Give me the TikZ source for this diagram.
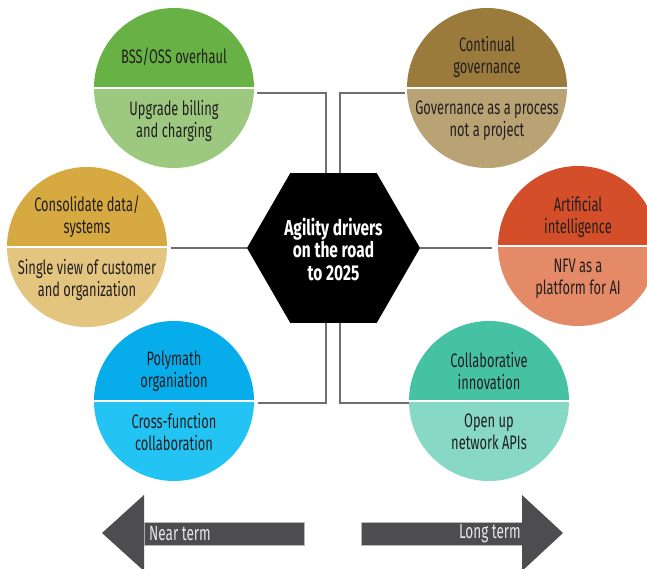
\documentclass[tikz,border=0pt]{standalone}
\usepackage{fontspec}
\setmainfont{Fira Sans}[FakeStretch=0.66]
\newfontfamily\hubfont{Fira Sans}[FakeStretch=0.72]
\usetikzlibrary{shapes.geometric,calc}
\definecolor{gTop}{HTML}{68B245}
\definecolor{gBot}{HTML}{9CC87F}
\definecolor{brTop}{HTML}{9A7B3C}
\definecolor{brBot}{HTML}{B9A273}
\definecolor{yTop}{HTML}{D6AA41}
\definecolor{yBot}{HTML}{E4C57F}
\definecolor{oTop}{HTML}{D54E2A}
\definecolor{oBot}{HTML}{E58A66}
\definecolor{bTop}{HTML}{07ADEA}
\definecolor{bBot}{HTML}{23C4F3}
\definecolor{tTop}{HTML}{45C2A3}
\definecolor{tBot}{HTML}{87D8C5}
\definecolor{ink}{HTML}{231F20}
\definecolor{connc}{HTML}{6D6E71}
\definecolor{arrc}{HTML}{4D4D4F}
\definecolor{arrtxt}{HTML}{E6E6E6}
\tikzset{
  disc/.style={circle, minimum size=160pt, inner sep=0pt},
  lbl/.style={align=center, inner sep=0pt, text=ink, font=\fontsize{19.5}{22}\selectfont},
  hubtxt/.style={align=center, inner sep=0pt, text=white, font=\hubfont\bfseries\fontsize{21.5}{22.5}\selectfont},
  arrlbl/.style={inner sep=0pt, text=arrtxt, font=\fontsize{20.5}{22}\selectfont},
  connector/.style={draw=connc, line width=1.3pt},
  arrowbody/.style={fill=arrc, draw=gray!55, line width=0.6pt},
}
\newcommand\splitdisc[4]{%
  \node[disc] (#1) at (#2) {};
  \begin{scope}
    \clip (#2) circle[radius=80];
    \fill[#3] ($(#2)+(-81,-81)$) rectangle ($(#2)+(81,-1.2)$);
    \fill[#4] ($(#2)+(-81,1.2)$) rectangle ($(#2)+(81,81)$);
  \end{scope}}
\begin{document}
\begin{tikzpicture}[x=1pt,y=-1pt]
\useasboundingbox (0,0) rectangle (647,569);
\clip (0,0) rectangle (647,569);
\fill[white] (0,0) rectangle (647,569);

% discs
\splitdisc{g}{174,88}{gTop}{gBot}
\splitdisc{br}{487,88}{brTop}{brBot}
\splitdisc{y}{87,247}{yTop}{yBot}
\splitdisc{o}{578,246}{oTop}{oBot}
\splitdisc{b}{174,401}{bTop}{bBot}
\splitdisc{t}{489,401}{tTop}{tBot}

% hub
\node[regular polygon, regular polygon sides=6,
      minimum size=173pt, inner sep=0pt, fill=black] (hub) at (333.5,248) {};
\node[hubtxt] (hubt) at ($(hub.center)+(0,1)$) {Agility drivers\\on the road\\to 2025};

% labels
\node[lbl] (gt) at ($(g)+(0,-31)$) {BSS/OSS overhaul};
\node[lbl] (gb) at ($(g)+(0,33)$) {Upgrade billing\\and charging};
\node[lbl] (brt) at ($(br)+(0,-31)$) {Continual\\governance};
\node[lbl] (brb) at ($(br)+(0,33)$) {Governance as a process\\not a project};
\node[lbl] (yt) at ($(y)+(0,-30)$) {Consolidate data/\\systems};
\node[lbl] (yb) at ($(y)+(0,33)$) {Single view of customer\\and organization};
\node[lbl] (ot) at ($(o)+(0,-29)$) {Artificial\\intelligence};
\node[lbl] (ob) at ($(o)+(0,33)$) {NFV as a\\platform for AI};
\node[lbl] (bt) at ($(b)+(0,-30)$) {Polymath\\organiation};
\node[lbl] (bb) at ($(b)+(0,31)$) {Cross-function\\collaboration};
\node[lbl] (tt) at ($(t)+(0,-30)$) {Collaborative\\innovation};
\node[lbl] (tb) at ($(t)+(0,31)$) {Open up\\network APIs};

% connectors
\coordinate (gA) at ($(g.east)+(3,5)$);
\coordinate (brA) at ($(br.west)+(-2,5)$);
\coordinate (yA) at ($(y.east)+(4,1)$);
\coordinate (oA) at ($(o.west)+(-6,2)$);
\coordinate (bA) at ($(b.east)+(4,2)$);
\coordinate (tA) at ($(t.west)+(0,2)$);
\draw[connector] (gA) -| ($(hub.north)+(-7.5,0)$);
\draw[connector] (brA) -| ($(hub.north)+(6.5,0)$);
\draw[connector] (bA) -| ($(hub.south)+(-7.5,0)$);
\draw[connector] (tA) -| ($(hub.south)+(6.5,0)$);
\draw[connector] (yA) -- (hub.west);
\draw[connector] (hub.east) -- (oA);

% time arrows
\filldraw[arrowbody] (144,522) rectangle (304,545);
\fill[arrc] (102,533) -- (144,495) -- (144,571) -- cycle;
\filldraw[arrowbody] (361,522) rectangle (522,545);
\fill[arrc] (563,533) -- (522,495) -- (522,571) -- cycle;
\node[arrlbl, anchor=west] (near) at (149,534) {Near term};
\node[arrlbl, anchor=east] (long) at (521,534) {Long term};
\end{tikzpicture}
\end{document}
